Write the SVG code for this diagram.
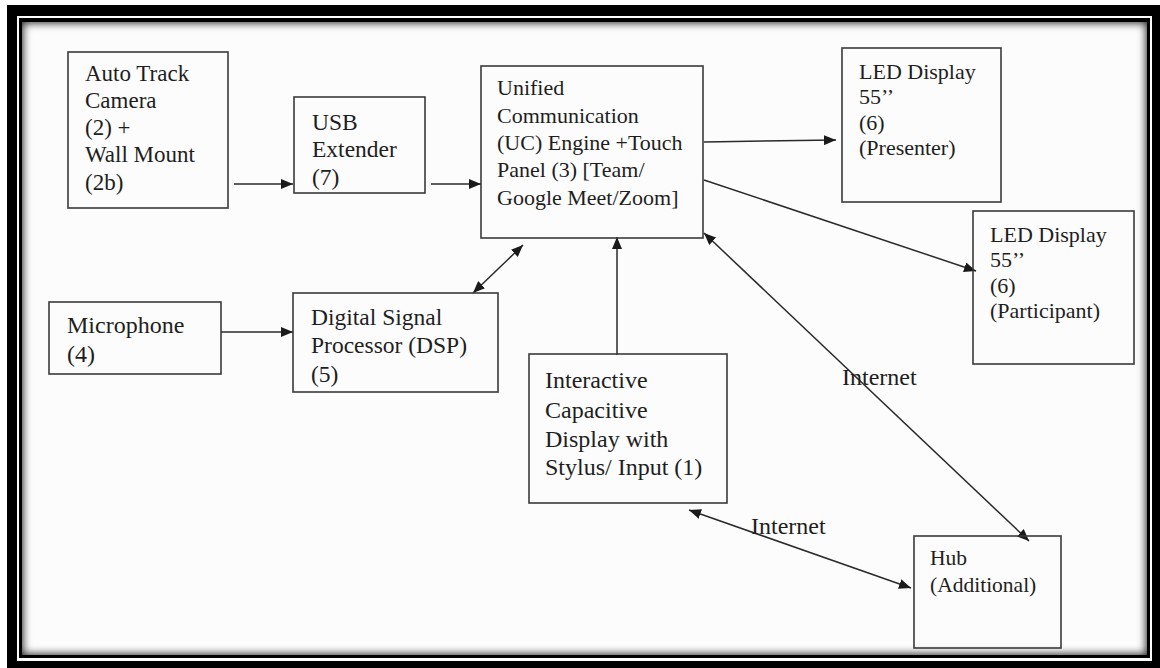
<svg xmlns="http://www.w3.org/2000/svg" width="1160" height="668" viewBox="0 0 1160 668">
<style>
.box{fill:none;stroke:#3a3a3a;stroke-width:1.6}
.t{font-family:"Liberation Serif","Times New Roman",serif;fill:#1e1e1e}
.c{fill:none;stroke:#2a2a2a;stroke-width:1.5}
</style>
<defs>
<marker id="ah" viewBox="0 0 12 10" refX="12" refY="5" markerWidth="12" markerHeight="10" markerUnits="userSpaceOnUse" orient="auto-start-reverse">
<path d="M0,0 L12,5 L0,10 Z" fill="#1a1a1a"/>
</marker>
<clipPath id="inner"><rect x="22" y="22" width="1125" height="633"/></clipPath>
<filter id="blur" x="-5%" y="-5%" width="110%" height="110%"><feGaussianBlur stdDeviation="4"/></filter>
</defs>
<rect x="0" y="0" width="1160" height="668" fill="#ffffff"/>
<g id="frame">
<rect x="7" y="5" width="1153" height="663" fill="#000"/>
<rect x="17" y="16" width="1135" height="645" fill="#fff"/>
<rect x="19" y="18" width="1131" height="640" fill="#000"/>
<rect x="22" y="22" width="1125" height="633" fill="#fcfcfc"/>
<g clip-path="url(#inner)"><rect x="16" y="16" width="1137" height="645" fill="none" stroke="#000" stroke-width="14" filter="url(#blur)" opacity="0.85"/></g>
</g>
<g id="connectors">
<line class="c" x1="234" y1="184" x2="293" y2="184" marker-end="url(#ah)"/>
<line class="c" x1="431" y1="184" x2="481" y2="184" marker-end="url(#ah)"/>
<line class="c" x1="704" y1="142" x2="836" y2="140" marker-end="url(#ah)"/>
<line class="c" x1="704" y1="180" x2="976" y2="271" marker-end="url(#ah)"/>
<line class="c" x1="473" y1="293" x2="523" y2="245" marker-start="url(#ah)" marker-end="url(#ah)"/>
<line class="c" x1="221" y1="332" x2="293" y2="332" marker-end="url(#ah)"/>
<line class="c" x1="617" y1="355" x2="617" y2="237" marker-end="url(#ah)"/>
<line class="c" x1="704" y1="233" x2="1029" y2="541" marker-start="url(#ah)" marker-end="url(#ah)"/>
<line class="c" x1="689" y1="510" x2="911" y2="588" marker-start="url(#ah)" marker-end="url(#ah)"/>
<text class="t" x="842" y="385" font-size="24">Internet</text>
<text class="t" x="751" y="534" font-size="24">Internet</text>
</g>
<g id="camera">
<rect class="box" x="68" y="52" width="160" height="156"/>
<text class="t" font-size="23" x="85"><tspan x="85" y="81">Auto Track</tspan><tspan x="85" y="108">Camera</tspan><tspan x="85" y="135">(2) +</tspan><tspan x="85" y="162">Wall Mount</tspan><tspan x="85" y="190">(2b)</tspan></text>
</g>
<g id="usb">
<rect class="box" x="294" y="97" width="131" height="96"/>
<text class="t" font-size="23.5"><tspan x="312" y="130">USB</tspan><tspan x="312" y="157">Extender</tspan><tspan x="312" y="185">(7)</tspan></text>
</g>
<g id="uc">
<rect class="box" x="481" y="66" width="222" height="172"/>
<text class="t" font-size="22"><tspan x="497" y="95">Unified</tspan><tspan x="497" y="123">Communication</tspan><tspan x="497" y="150">(UC) Engine +Touch</tspan><tspan x="497" y="177">Panel (3) [Team/</tspan><tspan x="497" y="205">Google Meet/Zoom]</tspan></text>
</g>
<g id="led-presenter">
<rect class="box" x="842" y="48" width="159" height="154"/>
<text class="t" font-size="22"><tspan x="859" y="79">LED Display</tspan><tspan x="859" y="104">55’’</tspan><tspan x="859" y="130">(6)</tspan><tspan x="859" y="155">(Presenter)</tspan></text>
</g>
<g id="led-participant">
<rect class="box" x="973" y="211" width="161" height="153"/>
<text class="t" font-size="22"><tspan x="990" y="242">LED Display</tspan><tspan x="990" y="267">55’’</tspan><tspan x="990" y="293">(6)</tspan><tspan x="990" y="318">(Participant)</tspan></text>
</g>
<g id="microphone">
<rect class="box" x="49" y="302" width="172" height="72"/>
<text class="t" font-size="24"><tspan x="67" y="333">Microphone</tspan><tspan x="67" y="362">(4)</tspan></text>
</g>
<g id="dsp">
<rect class="box" x="293" y="293" width="205" height="99"/>
<text class="t" font-size="23.5"><tspan x="311" y="325">Digital Signal</tspan><tspan x="311" y="353">Processor (DSP)</tspan><tspan x="311" y="382">(5)</tspan></text>
</g>
<g id="interactive">
<rect class="box" x="529" y="354" width="198" height="149"/>
<text class="t" font-size="24"><tspan x="545" y="388">Interactive</tspan><tspan x="545" y="418">Capacitive</tspan><tspan x="545" y="447">Display with</tspan><tspan x="545" y="475">Stylus/ Input (1)</tspan></text>
</g>
<g id="hub">
<rect class="box" x="914" y="536" width="147" height="112"/>
<text class="t" font-size="21.5"><tspan x="930" y="565">Hub</tspan><tspan x="930" y="592">(Additional)</tspan></text>
</g>
</svg>
